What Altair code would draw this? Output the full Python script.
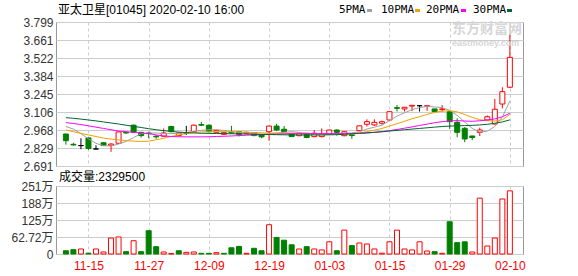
import altair as alt
import pandas as pd

# ---------------- data ----------------
dates = ["11-12","11-13","11-14","11-15","11-18","11-19","11-20","11-21","11-22","11-25",
         "11-26","11-27","11-28","11-29","12-02","12-03","12-04","12-05","12-06","12-09",
         "12-10","12-11","12-12","12-13","12-16","12-17","12-18","12-19","12-20","12-23",
         "12-24","12-27","12-30","12-31","01-02","01-03","01-06","01-07","01-08","01-09",
         "01-10","01-13","01-14","01-15","01-16","01-17","01-20","01-21","01-22","01-23",
         "01-24","01-29","01-30","01-31","02-03","02-04","02-05","02-06","02-07","02-10"]

opens = [2.937,2.858,2.848,2.907,2.822,2.870,2.850,2.866,2.950,3.005,
         2.950,2.945,2.920,2.920,2.995,2.925,2.943,2.955,3.010,3.005,
         2.950,2.935,2.950,2.955,2.940,2.945,2.930,2.955,2.998,2.974,
         2.940,2.924,2.943,2.917,2.917,2.937,2.968,2.924,2.930,2.963,
         3.012,3.007,3.020,3.045,3.140,3.130,3.152,3.155,3.150,3.130,
         3.125,3.109,3.027,2.981,2.922,2.950,3.045,3.014,3.168,3.297]
closes = [2.886,2.853,2.848,2.826,2.822,2.848,2.860,2.953,2.945,2.950,
          2.925,2.940,2.915,2.945,2.955,2.945,2.943,3.005,3.005,2.955,
          2.965,2.948,2.945,2.935,2.950,2.925,2.915,2.998,2.968,2.955,
          2.917,2.943,2.910,2.943,2.940,2.968,2.950,2.955,2.925,3.000,
          3.032,3.027,3.032,3.109,3.135,3.143,3.158,3.155,3.155,3.110,
          3.130,3.032,2.950,2.899,2.910,2.968,3.070,3.128,3.263,3.527]
highs = [2.940,2.870,2.904,2.910,2.850,2.875,2.866,2.955,2.955,3.010,
         2.953,2.955,2.930,2.980,3.000,2.950,3.000,3.010,3.030,3.010,
         2.970,2.955,3.000,2.960,2.955,2.950,2.935,3.000,3.015,2.998,
         2.945,2.948,2.945,2.968,2.980,2.970,2.972,2.960,2.932,3.002,
         3.050,3.050,3.040,3.110,3.160,3.145,3.158,3.157,3.157,3.130,
         3.160,3.110,3.058,2.990,2.922,2.986,3.080,3.207,3.297,3.712]
lows = [2.855,2.848,2.820,2.815,2.820,2.845,2.800,2.860,2.940,2.945,
        2.910,2.905,2.900,2.915,2.950,2.920,2.930,2.950,3.000,2.950,
        2.945,2.930,2.940,2.918,2.935,2.920,2.905,2.885,2.960,2.950,
        2.915,2.920,2.905,2.912,2.912,2.930,2.925,2.920,2.900,2.960,
        2.995,3.000,3.010,3.040,3.110,3.110,3.113,3.110,3.115,3.108,
        3.110,2.976,2.912,2.874,2.890,2.922,3.040,3.010,3.135,3.290]

# volume in 万 (10k shares), and colour (1 = red hollow, 0 = green)
volumes = [12,16,18.5,3,18.5,7.4,59,63,8.6,49,
           8.6,86,27,7.4,2,12,6,7.4,2.5,2.5,
           5,2.5,23,28,2.5,21,12,108,61,51,
           34,18.5,27,18.5,15,45,12,88,31,40.5,
           37,18.5,3,45,88,18.5,15,45,11,8.6,
           2.5,119,42,45,7.4,206,29.5,59,203,232.95]
vol_up = [0,0,1,0,1,1,1,1,0,1,
          0,0,0,1,1,0,1,1,0,0,
          1,0,0,0,1,0,0,1,0,0,
          0,1,0,1,1,1,0,1,0,1,
          1,1,1,1,1,1,1,1,1,0,
          1,0,0,0,1,1,1,1,1,1]

ma5 = [2.995,2.975,2.94,2.9,2.865,2.848,2.845,2.86,2.88,2.91,
       2.94,2.945,2.945,2.94,2.94,2.943,2.948,2.96,2.965,2.97,
       2.97,2.965,2.955,2.95,2.945,2.94,2.935,2.94,2.945,2.95,
       2.955,2.95,2.94,2.935,2.93,2.935,2.94,2.945,2.945,2.955,
       2.975,2.99,3.005,3.04,3.075,3.1,3.125,3.14,3.15,3.145,
       3.14,3.12,3.08,3.03,2.98,2.952,2.959,2.995,3.068,3.191]
ma10 = [2.968,2.955,2.942,2.93,2.918,2.906,2.898,2.892,2.886,2.882,
        2.88,2.882,2.893,2.905,2.918,2.93,2.94,2.948,2.953,2.955,
        2.955,2.955,2.955,2.953,2.951,2.949,2.946,2.944,2.943,2.943,
        2.943,2.943,2.942,2.94,2.938,2.938,2.938,2.938,2.94,2.945,
        2.955,2.967,2.98,2.998,3.017,3.035,3.055,3.07,3.088,3.103,
        3.113,3.116,3.107,3.087,3.065,3.047,3.04,3.037,3.047,3.088]
ma20 = [3.025,3.018,3.01,3.0,2.99,2.98,2.97,2.96,2.955,2.95,
        2.945,2.94,2.93,2.922,2.918,2.916,2.915,2.915,2.915,2.916,
        2.918,2.92,2.922,2.925,2.928,2.93,2.932,2.934,2.936,2.938,
        2.94,2.94,2.94,2.94,2.94,2.94,2.94,2.94,2.941,2.943,
        2.945,2.95,2.955,2.963,2.972,2.982,2.992,3.003,3.013,3.024,
        3.032,3.038,3.04,3.037,3.035,3.039,3.045,3.053,3.07,3.097]
ma30 = [3.063,3.058,3.052,3.045,3.038,3.03,3.022,3.014,3.005,2.996,
        2.987,2.978,2.97,2.963,2.957,2.952,2.948,2.945,2.943,2.942,
        2.941,2.94,2.939,2.938,2.937,2.935,2.934,2.933,2.932,2.931,
        2.93,2.93,2.93,2.93,2.93,2.931,2.932,2.935,2.938,2.942,
        2.946,2.95,2.955,2.96,2.965,2.97,2.975,2.98,2.985,2.99,
        2.995,2.998,3.0,3.002,3.004,3.007,3.012,3.02,3.03,3.046]

price_ticks = [2.691, 2.8295, 2.968, 3.1065, 3.245, 3.3835, 3.522, 3.6605, 3.799]
price_labels = ["2.691","2.829","2.968","3.106","3.245","3.384","3.522","3.661","3.799"]
vol_ticks = [0, 62.72, 125.44, 188.16, 250.88]
vol_labels = ["0","62.72万","125万","188万","251万"]
date_ticks = [3, 11, 19, 27, 35, 43, 51, 59]

title_text = "亚太卫星[01045] 2020-02-10 16:00"
vol_title = "成交量:2329500"
legend_names = ["5PMA", "10PMA", "20PMA", "30PMA"]
ma_colors = ["#a0a0a0", "#f0a000", "#ff00ff", "#006633"]

# ---------------- frames ----------------
def direction(o, c):
    return "up" if c > o else ("down" if c < o else "flat")

df = pd.DataFrame({
    "i": list(range(len(dates))), "date": dates,
    "open": opens, "close": closes, "high": highs, "low": lows,
    "ma5": ma5, "ma10": ma10, "ma20": ma20, "ma30": ma30,
})
df["dir"] = [direction(o, c) for o, c in zip(opens, closes)]
vdf = pd.DataFrame({"i": list(range(len(dates))), "vol": volumes,
                    "dir": ["up" if u else "down" for u in vol_up]})

FONT = "Liberation Sans, Noto Sans CJK SC"
GRID = "#cccccc"

date_expr = "[" + ",".join("'%s'" % d for d in dates) + "][datum.value]"
price_expr = "".join("abs(datum.value - %s) < 0.0005 ? '%s' : " % (v, l)
                     for v, l in zip(price_ticks, price_labels)) + "''"
vol_expr = "".join("abs(datum.value - %s) < 0.01 ? '%s' : " % (v, l)
                   for v, l in zip(vol_ticks, vol_labels)) + "''"

x_scale = alt.Scale(domain=[-0.65, 60.08], nice=False, zero=False)
x_axis_p = alt.Axis(values=date_ticks, labels=False, ticks=False, domain=False,
                    grid=True, gridDash=[3, 3], gridColor=GRID, title=None)
x_axis_v = alt.Axis(values=date_ticks, labelExpr=date_expr, ticks=False, domain=False,
                    grid=True, gridDash=[3, 3], gridColor=GRID, title=None,
                    labelColor="#ff0000", labelFontSize=12, labelFont=FONT,
                    labelPadding=6, labelFlush=False, labelOverlap=False)
y_scale_p = alt.Scale(domain=[2.691, 3.799], nice=False, zero=False)
y_axis_p = alt.Axis(values=price_ticks, labelExpr=price_expr, ticks=False, domain=False,
                    grid=True, gridColor=GRID, title=None, labelFontSize=12,
                    labelFont=FONT, labelColor="#333333", labelPadding=3,
                    minExtent=50, maxExtent=50, labelOverlap=False, labelFlush=False)
y_scale_v = alt.Scale(domain=[0, 250.88], nice=False, zero=True)
y_axis_v = alt.Axis(values=vol_ticks, labelExpr=vol_expr, ticks=False, domain=False,
                    grid=True, gridColor=GRID, title=None, labelFontSize=12,
                    labelFont=FONT, labelColor="#333333", labelPadding=3,
                    minExtent=50, maxExtent=50, labelOverlap=False, labelFlush=False)

def XP():
    return alt.X("i:Q", scale=x_scale, axis=x_axis_p, title=None)

def YP(field):
    return alt.Y(field + ":Q", scale=y_scale_p, axis=y_axis_p, title=None)

dir_dom = ["up", "down", "flat"]
stroke_scale = alt.Scale(domain=dir_dom, range=["#ff0000", "#008000", "#000000"])
fill_scale = alt.Scale(domain=dir_dom, range=["#ffffff", "#008000", "#000000"])

base = alt.Chart(df)
wicks = base.mark_rule(strokeWidth=1).encode(
    x=XP(), y=YP("low"), y2="high:Q",
    color=alt.Color("dir:N", scale=stroke_scale, legend=None))
bodies = base.mark_bar(size=5, strokeWidth=1).encode(
    x=XP(), y=YP("open"), y2="close:Q",
    stroke=alt.Stroke("dir:N", scale=stroke_scale, legend=None),
    fill=alt.Fill("dir:N", scale=fill_scale, legend=None))
lines = [base.mark_line(strokeWidth=1, color=c).encode(x=XP(), y=YP(f))
         for f, c in zip(["ma5", "ma10", "ma20", "ma30"], ma_colors)]

one = pd.DataFrame({"k": [0]})
def label(text, x, y, size=12, color="#000000", align="left", weight="normal", font=FONT):
    return alt.Chart(one).mark_text(align=align, baseline="middle", fontSize=size,
                                    color=color, font=font, fontWeight=weight).encode(
        x=alt.value(x), y=alt.value(y), text=alt.value(text))

legend_x = [283, 325, 370, 417]
swatch_x = [311, 359, 405, 451]
legend_layers = []
for name, lx, sx, col in zip(legend_names, legend_x, swatch_x, ma_colors):
    legend_layers.append(label(name, lx, -12, size=11, font="DejaVu Sans Mono"))
    legend_layers.append(alt.Chart(one).mark_rect(color=col).encode(
        x=alt.value(sx), x2=alt.value(sx + 5), y=alt.value(-13), y2=alt.value(-10)))

watermark = [
    label("东方财富网", 396, 7, size=14, color="#d6d6d6", weight="bold"),
    label("eastmoney.com", 396, 21, size=9, color="#d6d6d6", weight="bold"),
]

price = alt.layer(
    wicks, bodies, *lines,
    label(title_text, 2, -12),
    *legend_layers, *watermark,
).properties(width=467, height=144)

vbars = alt.Chart(vdf).mark_bar(size=5, strokeWidth=1).encode(
    x=alt.X("i:Q", scale=x_scale, axis=x_axis_v, title=None),
    y=alt.Y("vol:Q", scale=y_scale_v, axis=y_axis_v, title=None),
    stroke=alt.Stroke("dir:N", scale=stroke_scale, legend=None),
    fill=alt.Fill("dir:N", scale=fill_scale, legend=None))

volume = alt.layer(vbars, label(vol_title, 3, -9)).properties(width=467, height=68)

chart = alt.vconcat(price, volume, spacing=20, bounds="flush").properties(
    padding={"left": 5, "top": 3, "right": 5, "bottom": 5},
    background="#ffffff",
).configure_view(stroke="#999999", strokeWidth=1)

chart.save("out.html", embed_options={"renderer": "svg", "actions": False})
